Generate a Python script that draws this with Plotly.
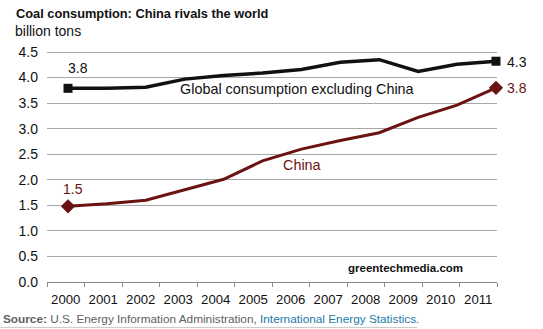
import plotly.graph_objects as go

years = [2000, 2001, 2002, 2003, 2004, 2005, 2006, 2007, 2008, 2009, 2010, 2011]
global_ex_china = [3.79, 3.79, 3.81, 3.97, 4.04, 4.09, 4.16, 4.30, 4.35, 4.12, 4.26, 4.32]
china = [1.48, 1.53, 1.60, 1.80, 2.01, 2.37, 2.60, 2.77, 2.92, 3.22, 3.46, 3.80]
y_ticks = [0.0, 0.5, 1.0, 1.5, 2.0, 2.5, 3.0, 3.5, 4.0, 4.5]

FONT = "Liberation Sans, Arial, sans-serif"
BLACK = "#111111"
MAROON = "#6b1212"
GRID = "#a8a8a8"

fig = go.Figure()

# series lines
fig.add_trace(go.Scatter(
    x=years, y=global_ex_china, mode="lines",
    line=dict(color=BLACK, width=3.5),
    cliponaxis=False, showlegend=False, hoverinfo="skip",
))
fig.add_trace(go.Scatter(
    x=years, y=china, mode="lines",
    line=dict(color=MAROON, width=3),
    cliponaxis=False, showlegend=False, hoverinfo="skip",
))
# end-point markers
ends = [0, len(years) - 1]
fig.add_trace(go.Scatter(
    x=[years[i] for i in ends], y=[global_ex_china[i] for i in ends], mode="markers",
    marker=dict(symbol="square", size=9, color=BLACK, opacity=1, line=dict(width=0)),
    cliponaxis=False, showlegend=False, hoverinfo="skip",
))
fig.add_trace(go.Scatter(
    x=[years[i] for i in ends], y=[china[i] for i in ends], mode="markers",
    marker=dict(symbol="diamond", size=11, color=MAROON, opacity=1, line=dict(width=0)),
    cliponaxis=False, showlegend=False, hoverinfo="skip",
))

def note(**kw):
    base = dict(showarrow=False, xanchor="center", yanchor="middle")
    base.update(kw)
    return base

ann = []
# end-point value labels
ann.append(note(x=years[0], y=global_ex_china[0], xref="x", yref="y",
                text=f"{global_ex_china[0]:.1f}",
                xshift=10, yshift=20, font=dict(size=14, color=BLACK)))
ann.append(note(x=years[-1], y=global_ex_china[-1], xref="x", yref="y",
                text=f"{global_ex_china[-1]:.1f}", xanchor="left",
                xshift=9, yshift=-1, font=dict(size=14, color=BLACK)))
ann.append(note(x=years[-1], y=china[-1], xref="x", yref="y",
                text=f"{china[-1]:.1f}", xanchor="left",
                xshift=9, yshift=0, font=dict(size=14, color=MAROON)))
ann.append(note(x=years[0], y=china[0], xref="x", yref="y",
                text=f"{china[0]:.1f}",
                xshift=5, yshift=17, font=dict(size=14, color=MAROON)))
# series names
ann.append(note(x=0.5556, y=0.834, xref="paper", yref="paper",
                text="Global consumption excluding China",
                font=dict(size=14.4, color=BLACK)))
ann.append(note(x=0.5667, y=0.5066, xref="paper", yref="paper",
                text="China", font=dict(size=14.4, color=MAROON)))
# titles
ann.append(note(x=-0.0733, y=1.1616, xref="paper", yref="paper", xanchor="left",
                text="<b>Coal consumption: China rivals the world</b>",
                font=dict(size=12.8, color=BLACK)))
ann.append(note(x=-0.0756, y=1.0873, xref="paper", yref="paper", xanchor="left",
                text="billion tons", font=dict(size=14, color=BLACK)))
ann.append(note(x=0.7956, y=0.0611, xref="paper", yref="paper",
                text="<b>greentechmedia.com</b>",
                font=dict(size=11.5, color=BLACK)))
ann.append(note(x=-0.1022, y=-0.1616, xref="paper", yref="paper", xanchor="left",
                text=("<b>Source:</b> U.S. Energy Information Administration, "
                      "<span style='color:#1c7aa6'>International Energy Statistics</span>."),
                font=dict(size=11.8, color="#606060")))

fig.update_layout(
    width=543, height=329,
    margin=dict(l=47, r=46, t=51, b=47),
    paper_bgcolor="white", plot_bgcolor="white",
    font=dict(family=FONT, color=BLACK),
    annotations=ann,
    shapes=[dict(type="line", xref="paper", yref="paper",
                 x0=-0.1044, x1=0.822, y0=-0.1965, y1=-0.1965,
                 line=dict(color="#c8c8c8", width=1))],
    xaxis=dict(range=[1999.46, 2011.026], visible=False, showgrid=False, zeroline=False),
    xaxis2=dict(overlaying="x", anchor="y", side="bottom",
                range=[-0.5, 11.5], tickmode="array",
                tickvals=list(range(len(years))), ticktext=[str(y) for y in years],
                ticks="", showgrid=False, zeroline=False,
                showline=True, linecolor="#8a8a8a", linewidth=1,
                ticklabelstandoff=5,
                tickfont=dict(size=13.2, color=BLACK),
                minor=dict(tick0=-0.5, dtick=1, ticks="outside", ticklen=4,
                           tickcolor="#8a8a8a", showgrid=False)),
    yaxis=dict(range=[0, 4.52], tickmode="array", tickvals=y_ticks,
               ticktext=[f"{v:.1f}" for v in y_ticks],
               showgrid=True, gridcolor=GRID, gridwidth=1, zeroline=False,
               showline=False, ticks="", ticklabelstandoff=8,
               tickfont=dict(size=14, color=BLACK)),
)

# invisible point on the label axis so it renders
fig.add_trace(go.Scatter(x=[0], y=[0], xaxis="x2", yaxis="y", mode="markers",
                         marker=dict(opacity=0), showlegend=False, hoverinfo="skip"))

fig.write_html("out.html")
